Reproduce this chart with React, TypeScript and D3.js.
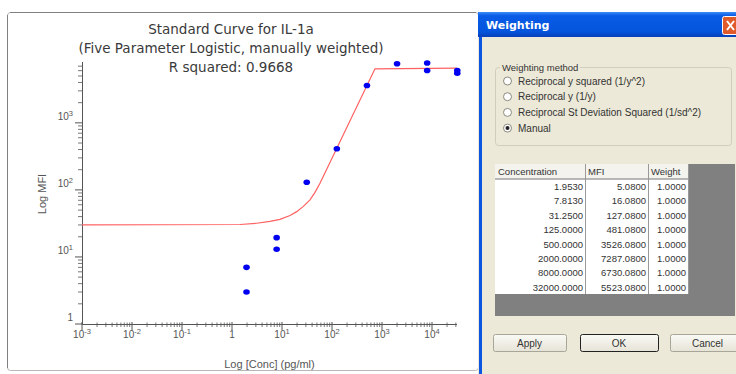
import React from "react";
import * as d3 from "d3";

// ---- data ----
const titleLines = ["Standard Curve for IL-1a", "(Five Parameter Logistic, manually weighted)", "R squared: 0.9668"];
const xTickExps = [-3, -2, -1, 0, 1, 2, 3, 4];
const yTickExps = [0, 1, 2, 3];
const pointConc = [1.95, 1.95, 7.81, 7.81, 31.25, 125, 500, 2000, 8000, 8000, 32000, 32000];
const pointMfi = [7.0, 3.0, 19.4, 13.0, 130, 410, 3600, 7600, 7800, 6050, 6050, 5500];
const curveConc = [0.001, 1.445, 3.12, 5.75, 9.12, 14.45, 19.7, 26.7, 36.3, 45.7, 57.5, 724, 31623];
const curveMfi = [30.0, 30.5, 31.8, 33.9, 36.3, 41.6, 47.4, 56.7, 70.9, 91.8, 126, 6400, 6550];
const weightingMethods = ["Reciprocal y squared (1/y^2)", "Reciprocal y (1/y)", "Reciprocal St Deviation Squared (1/sd^2)", "Manual"];
const selectedMethod = 3;
const tableHeaders = ["Concentration", "MFI", "Weight"];
const concLabels = ["1.9530", "7.8130", "31.2500", "125.0000", "500.0000", "2000.0000", "8000.0000", "32000.0000"];
const mfiLabels = ["5.0800", "16.0800", "127.0800", "481.0800", "3526.0800", "7287.0800", "6730.0800", "5523.0800"];
const weightLabels = ["1.0000", "1.0000", "1.0000", "1.0000", "1.0000", "1.0000", "1.0000", "1.0000"];
const buttonLabels = ["Apply", "OK", "Cancel"];

const supMap: Record<string, string> = {};

export default function App() {
  const x = d3.scaleLog().domain([1e-3, Math.pow(10, 4.5)]).range([82, 457]);
  const y = d3.scaleLog().domain([1, Math.pow(10, 3.9)]).range([324, 62.5]);

  const xMinor: number[] = [];
  for (let e = -3; e <= 4; e++) for (let k = 2; k <= 9; k++) { const v = k * Math.pow(10, e); if (v <= x.domain()[1]) xMinor.push(v); }
  const yMinor: number[] = [];
  for (let e = 0; e <= 3; e++) for (let k = 2; k <= 9; k++) { const v = k * Math.pow(10, e); if (v <= y.domain()[1]) yMinor.push(v); }

  const curveData = curveConc.map((c, i) => [c, curveMfi[i]] as [number, number]);
  const line = d3.line<[number, number]>().x(d => x(d[0])).y(d => y(d[1])).curve(d3.curveLinear);

  const axisColor = "#555";
  const tickFont = "'Liberation Sans', Arial, sans-serif";

  const colX = [495, 585, 648, 688];
  const rowTop = 179;
  const rowH = 14.4;

  return (
    <svg width={736} height={374} style={{ position: "absolute", left: 0, top: 0, background: "#fff" }}>
      <defs>
        <linearGradient id="tb" x1="0" y1="0" x2="0" y2="1">
          <stop offset="0" stopColor="#3C8CF8" />
          <stop offset="0.15" stopColor="#0A5CE6" />
          <stop offset="0.8" stopColor="#0454DC" />
          <stop offset="1" stopColor="#0840B8" />
        </linearGradient>
        <linearGradient id="btn" x1="0" y1="0" x2="0" y2="1">
          <stop offset="0" stopColor="#FAFAF6" />
          <stop offset="1" stopColor="#E6E3D6" />
        </linearGradient>
      </defs>

      {/* chart panel */}
      <rect x={7.5} y={12.5} width={471} height={358} fill="#fff" stroke="#b8b8b8" rx={3} />
      <line x1={7.5} y1={15} x2={7.5} y2={368} stroke="#808080" />
      <line x1={10} y1={12.5} x2={476} y2={12.5} stroke="#808080" />

      {titleLines.map((t, i) => (
        <text key={i} x={231} y={34 + i * 19} textAnchor="middle" fontFamily="'DejaVu Sans', Verdana, sans-serif" fontSize={13.5} fill="#3a3a3a">{t}</text>
      ))}

      {/* axes */}
      <line x1={82} y1={324.5} x2={457} y2={324.5} stroke={axisColor} />
      <line x1={82.5} y1={62} x2={82.5} y2={325} stroke={axisColor} />

      {xMinor.map((v, i) => (
        <line key={"xm" + i} x1={x(v)} x2={x(v)} y1={322.5} y2={327} stroke={axisColor} strokeWidth={0.8} />
      ))}
      {xTickExps.map(e => (
        <line key={"xM" + e} x1={x(Math.pow(10, e))} x2={x(Math.pow(10, e))} y1={322} y2={330} stroke={axisColor} />
      ))}
      {xTickExps.map(e => (
        <text key={"xl" + e} x={x(Math.pow(10, e))} y={338} textAnchor="middle" fontFamily={tickFont} fontSize={10} fill="#555">
          {e === 0 ? "1" : <>10<tspan fontSize={7.5} dy={-4}>{String(e).replace("-", "-")}</tspan></>}
        </text>
      ))}

      {yMinor.map((v, i) => (
        <line key={"ym" + i} x1={78} x2={82} y1={y(v)} y2={y(v)} stroke={axisColor} strokeWidth={0.8} />
      ))}
      {yTickExps.map(e => (
        <line key={"yM" + e} x1={75} x2={82} y1={y(Math.pow(10, e))} y2={y(Math.pow(10, e))} stroke={axisColor} />
      ))}
      {yTickExps.map(e => (
        <text key={"yl" + e} x={73} y={y(Math.pow(10, e)) - 3} textAnchor="end" fontFamily={tickFont} fontSize={10} fill="#555">
          {e === 0 ? "1" : <>10<tspan fontSize={7.5} dy={-4}>{String(e)}</tspan></>}
        </text>
      ))}

      <text x={269.5} y={368} textAnchor="middle" fontFamily={tickFont} fontSize={11} fill="#555">Log [Conc] (pg/ml)</text>
      <text transform="translate(46,194) rotate(-90)" textAnchor="middle" fontFamily={tickFont} fontSize={11} fill="#555">Log MFI</text>

      {/* fitted curve */}
      <path d={line(curveData) || ""} fill="none" stroke="#FF6060" strokeWidth={1.2} />

      {/* data points */}
      {pointConc.map((c, i) => (
        <ellipse key={"p" + i} cx={x(c)} cy={y(pointMfi[i])} rx={3.3} ry={2.8} fill="#0000F0" />
      ))}

      {/* dialog */}
      <rect x={478} y={12} width={258} height={362} fill="#ECE9D8" />
      <rect x={478} y={12} width={258} height={25} fill="url(#tb)" />
      <rect x={479} y={37} width={3} height={337} fill="#0B55E0" />
      <text x={486} y={29} fontFamily="'DejaVu Sans', Verdana, sans-serif" fontWeight="bold" fontSize={11} fill="#fff">Weighting</text>
      <rect x={722.5} y={16.5} width={16} height={18} rx={2} fill="#E15A2C" stroke="#fff" />
      <path d="M727,21 L734,30 M734,21 L727,30" stroke="#fff" strokeWidth={2} />

      <rect x={495.5} y={67.5} width={236} height={78} rx={3} fill="none" stroke="#CFCDBE" />
      <rect x={500} y={62} width={80} height={10} fill="#ECE9D8" />
      <text x={502} y={70.5} fontFamily={tickFont} fontSize={9.5} fill="#333">Weighting method</text>
      {weightingMethods.map((m, i) => (
        <g key={"wm" + i}>
          <circle cx={507.5} cy={81 + i * 15.7} r={4} fill="#fff" stroke="#8a8a80" />
          {i === selectedMethod && <circle cx={507.5} cy={81 + i * 15.7} r={2} fill="#222" />}
          <text x={518} y={84.5 + i * 15.7} fontFamily={tickFont} fontSize={10} fill="#333">{m}</text>
        </g>
      ))}

      <rect x={495} y={164} width={240} height={152} fill="#808080" />
      <rect x={495} y={164} width={193} height={130} fill="#fff" />
      <rect x={495} y={164} width={193} height={15} fill="#F4F3EE" />
      <line x1={495} x2={688} y1={179} y2={179} stroke="#777" />
      {colX.slice(1).map((cx, i) => (
        <line key={"cs" + i} x1={cx + 0.5} x2={cx + 0.5} y1={164} y2={294} stroke="#999" />
      ))}
      {tableHeaders.map((h, i) => (
        <text key={"th" + i} x={colX[i] + 3} y={175} fontFamily={tickFont} fontSize={9.5} fill="#333">{h}</text>
      ))}
      {concLabels.map((c, r) => (
        <g key={"row" + r}>
          <text x={colX[1] - 2} y={rowTop + r * rowH + 11} textAnchor="end" fontFamily={tickFont} fontSize={9.5} fill="#333">{c}</text>
          <text x={colX[2] - 2} y={rowTop + r * rowH + 11} textAnchor="end" fontFamily={tickFont} fontSize={9.5} fill="#333">{mfiLabels[r]}</text>
          <text x={colX[3] - 2} y={rowTop + r * rowH + 11} textAnchor="end" fontFamily={tickFont} fontSize={9.5} fill="#333">{weightLabels[r]}</text>
        </g>
      ))}

      {buttonLabels.map((b, i) => {
        const bx = [493, 580, 670][i];
        const bw = [73, 78, 75][i];
        return (
          <g key={"b" + i}>
            <rect x={bx + 0.5} y={334.5} width={bw} height={17} rx={2} fill="url(#btn)" stroke={i === 1 ? "#222" : "#A8A698"} />
            <text x={bx + bw / 2} y={347} textAnchor="middle" fontFamily={tickFont} fontSize={10} fill="#333">{b}</text>
          </g>
        );
      })}
    </svg>
  );
}
